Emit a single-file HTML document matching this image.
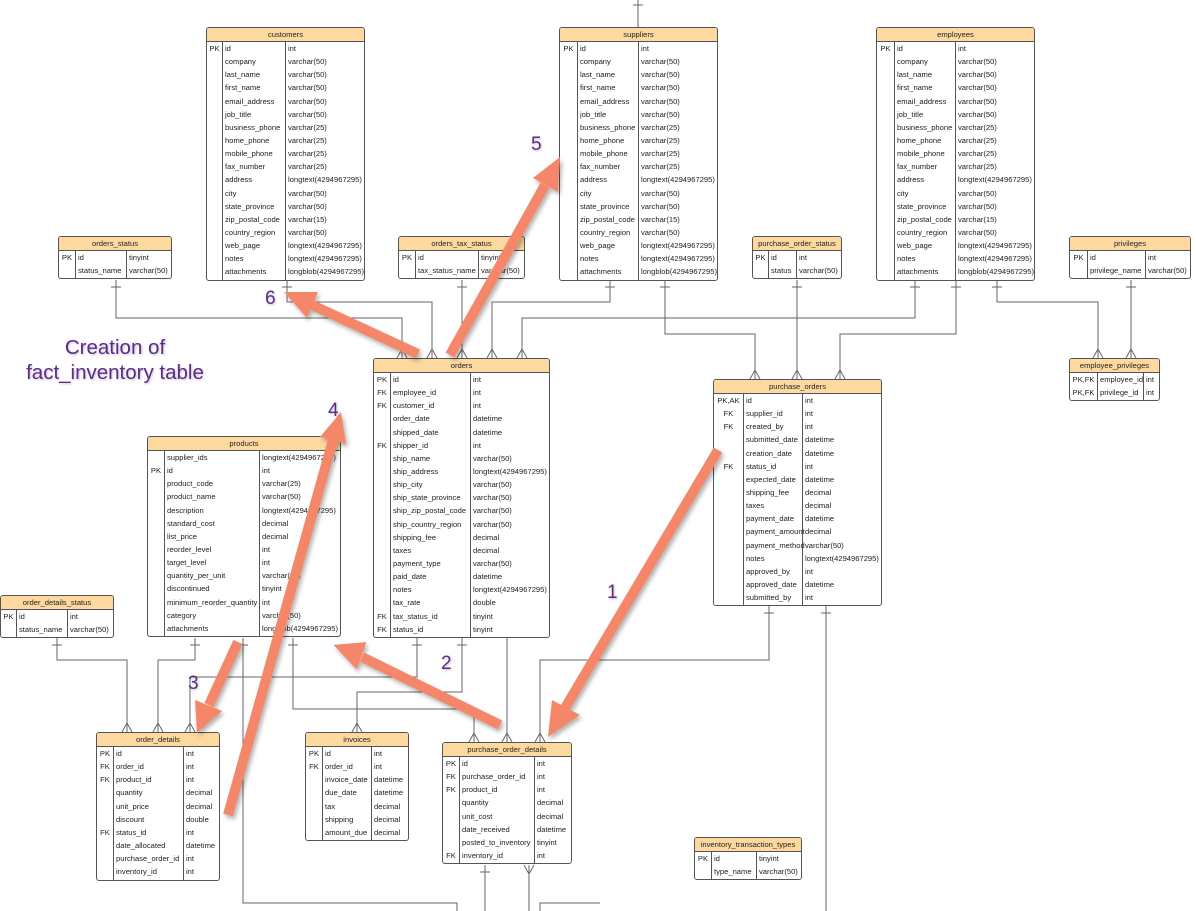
<!DOCTYPE html>
<html><head><meta charset="utf-8">
<style>
body{margin:0;width:1196px;height:911px;background:#fff;position:relative;overflow:hidden;font-family:"Liberation Sans",sans-serif;}
.t{position:absolute;border:1.3px solid #555;border-radius:3px;background:#fff;box-sizing:border-box;overflow:hidden;font-size:7.6px;color:#222;}
.h{height:14px;line-height:14px;text-align:center;background:#FDD9A0;border-bottom:1.3px solid #555;box-sizing:border-box;}
.r{height:13.15px;line-height:13.15px;white-space:nowrap;position:relative;}
.r span{position:absolute;top:0;}
.vl{position:absolute;top:14px;bottom:0;border-left:1px solid #555;}
svg{position:absolute;left:0;top:0;}
.lab{position:absolute;color:#5e2a8e;font-size:19px;text-shadow:1px 1px 2px rgba(0,0,0,.25);}
</style></head><body>
<svg width="1196" height="911" id="ln">
<g fill="none" stroke="#666" stroke-width="1" id="g">
<path d="M638 0V27"/>
<path d="M116 280V318H402V358"/>
<path d="M287 280V302H432V358"/>
<path d="M462 280V358"/>
<path d="M610 280V302H492V358"/>
<path d="M915 280V318H522V358"/>
<path d="M665 280V334H755V379"/>
<path d="M797 280V379"/>
<path d="M956 280V334H840V379"/>
<path d="M997 280V302H1098V358"/>
<path d="M1131 280V358"/>
<path d="M57 638V660H127V732"/>
<path d="M195 638V660H158V732"/>
<path d="M417 638V677H190V732"/>
<path d="M462 638V692H357V732"/>
<path d="M293 638V709H474V742"/>
<path d="M507 638V742"/>
<path d="M769 606V660H540V742"/>
<path d="M243 638V903H457V911"/>
<path d="M826 606V911"/>
<path d="M485 865V911"/>
<path d="M529 865V911"/>
<path d="M540 911V903H600"/>
</g>
</svg>
<div id="c"></div>
<svg width="1196" height="911">
<defs><filter id="sh"><feDropShadow dx="2" dy="3" stdDeviation="2" flood-opacity=".3"/></filter></defs>
<g stroke="#F4876A" stroke-width="10" fill="#F4876A" filter="url(#sh)">
<line x1="718" y1="450" x2="565" y2="708"/><polygon points="548,737 552,700 580,715" stroke="none"/>
<line x1="500" y1="725" x2="362" y2="657"/><polygon points="334,644 367,643 356,670" stroke="none" transform="rotate(-3 350 655)"/>
<line x1="238" y1="642" x2="209" y2="705"/><polygon points="197,733 195,700 222,711" stroke="none"/>
<line x1="228" y1="815" x2="333" y2="440"/><polygon points="341,412 346,444 320,437" stroke="none"/>
<line x1="450" y1="355" x2="545" y2="185"/><polygon points="560,157 558,192 533,178" stroke="none"/>
<line x1="418" y1="354" x2="312" y2="305"/><polygon points="284,292 318,292 307,318" stroke="none"/>
</g></svg>
<div class="lab" style="left:607px;top:582px">1</div>
<div class="lab" style="left:441px;top:653px">2</div>
<div class="lab" style="left:188px;top:673px">3</div>
<div class="lab" style="left:328px;top:400px">4</div>
<div class="lab" style="left:531px;top:134px">5</div>
<div class="lab" style="left:265px;top:288px">6</div>
<div class="lab" style="left:0;width:230px;text-align:center;top:335px;line-height:25px;font-size:20.5px">Creation of<br>fact_inventory table</div>
<script>
var T=[
["customers",206,27,365,222,285,[["PK","id","int"],["","company","varchar(50)"],["","last_name","varchar(50)"],["","first_name","varchar(50)"],["","email_address","varchar(50)"],["","job_title","varchar(50)"],["","business_phone","varchar(25)"],["","home_phone","varchar(25)"],["","mobile_phone","varchar(25)"],["","fax_number","varchar(25)"],["","address","longtext(4294967295)"],["","city","varchar(50)"],["","state_province","varchar(50)"],["","zip_postal_code","varchar(15)"],["","country_region","varchar(50)"],["","web_page","longtext(4294967295)"],["","notes","longtext(4294967295)"],["","attachments","longblob(4294967295)"]]],
["suppliers",559,27,718,577,638,null],
["employees",876,27,1035,894,955,null],
["orders_status",58,236,172,75,126,[["PK","id","tinyint"],["","status_name","varchar(50)"]]],
["orders_tax_status",398,236,525,415,478,[["PK","id","tinyint"],["","tax_status_name","varchar(50)"]]],
["purchase_order_status",752,236,842,768,796,[["PK","id","int"],["","status","varchar(50)"]]],
["privileges",1069,236,1191,1087,1145,[["PK","id","int"],["","privilege_name","varchar(50)"]]],
["employee_privileges",1069,358,1160,1097,1143,[["PK,FK","employee_id","int"],["PK,FK","privilege_id","int"]]],
["orders",373,358,550,390,470,[["PK","id","int"],["FK","employee_id","int"],["FK","customer_id","int"],["","order_date","datetime"],["","shipped_date","datetime"],["FK","shipper_id","int"],["","ship_name","varchar(50)"],["","ship_address","longtext(4294967295)"],["","ship_city","varchar(50)"],["","ship_state_province","varchar(50)"],["","ship_zip_postal_code","varchar(50)"],["","ship_country_region","varchar(50)"],["","shipping_fee","decimal"],["","taxes","decimal"],["","payment_type","varchar(50)"],["","paid_date","datetime"],["","notes","longtext(4294967295)"],["","tax_rate","double"],["FK","tax_status_id","tinyint"],["FK","status_id","tinyint"]]],
["purchase_orders",713,379,882,743,802,[["PK,AK","id","int"],["FK","supplier_id","int"],["FK","created_by","int"],["","submitted_date","datetime"],["","creation_date","datetime"],["FK","status_id","int"],["","expected_date","datetime"],["","shipping_fee","decimal"],["","taxes","decimal"],["","payment_date","datetime"],["","payment_amount","decimal"],["","payment_method","varchar(50)"],["","notes","longtext(4294967295)"],["","approved_by","int"],["","approved_date","datetime"],["","submitted_by","int"]]],
["products",147,436,341,164,259,[["","supplier_ids","longtext(4294967295)"],["PK","id","int"],["","product_code","varchar(25)"],["","product_name","varchar(50)"],["","description","longtext(4294967295)"],["","standard_cost","decimal"],["","list_price","decimal"],["","reorder_level","int"],["","target_level","int"],["","quantity_per_unit","varchar(50)"],["","discontinued","tinyint"],["","minimum_reorder_quantity","int"],["","category","varchar(50)"],["","attachments","longblob(4294967295)"]]],
["order_details_status",0,595,114,16,67,[["PK","id","int"],["","status_name","varchar(50)"]]],
["order_details",96,732,220,113,183,[["PK","id","int"],["FK","order_id","int"],["FK","product_id","int"],["","quantity","decimal"],["","unit_price","decimal"],["","discount","double"],["FK","status_id","int"],["","date_allocated","datetime"],["","purchase_order_id","int"],["","inventory_id","int"]]],
["invoices",305,732,409,322,371,[["PK","id","int"],["FK","order_id","int"],["","invoice_date","datetime"],["","due_date","datetime"],["","tax","decimal"],["","shipping","decimal"],["","amount_due","decimal"]]],
["purchase_order_details",442,742,572,459,534,[["PK","id","int"],["FK","purchase_order_id","int"],["FK","product_id","int"],["","quantity","decimal"],["","unit_cost","decimal"],["","date_received","datetime"],["","posted_to_inventory","tinyint"],["FK","inventory_id","int"]]],
["inventory_transaction_types",694,837,802,711,756,[["PK","id","tinyint"],["","type_name","varchar(50)"]]]
];
T[1][6]=T[0][6];T[2][6]=T[0][6];
var h="";
T.forEach(function(t){var L=t[1],w=t[3]-L,a=t[4]-L,b=t[5]-L,rows=t[6];
var H=14+rows.length*13.15+3;
h+='<div class="t" style="left:'+L+'px;top:'+t[2]+'px;width:'+w+'px;height:'+H+'px"><div class="h">'+t[0]+'</div>';
h+='<div class="vl" style="left:'+(a-1)+'px"></div><div class="vl" style="left:'+(b-1)+'px"></div>';
rows.forEach(function(r){h+='<div class="r"><span style="left:0;width:'+(a-1)+'px;text-align:center">'+r[0]+'</span><span style="left:'+(a+2)+'px">'+r[1]+'</span><span style="left:'+(b+2)+'px">'+r[2]+'</span></div>';});
h+='</div>';});
document.getElementById("c").innerHTML=h;
var g=document.getElementById("g"),s="";
[[402,358],[432,358],[462,358],[492,358],[522,358],[755,379],[797,379],[840,379],[1098,358],[1131,358],[127,732],[158,732],[190,732],[357,732],[474,742],[507,742],[540,742]].forEach(function(p){var x=p[0],y=p[1];s+='<path d="M'+(x-5)+' '+y+'L'+x+' '+(y-9)+'L'+(x+5)+' '+y+'M'+x+' '+y+'V'+(y-9)+'"/>';});
[[116,287],[287,287],[462,287],[610,287],[665,287],[797,287],[915,287],[956,287],[997,287],[1131,287],[57,645],[195,645],[243,645],[293,645],[417,645],[462,645],[769,613],[826,613],[485,872]].forEach(function(p){s+='<path d="M'+(p[0]-5)+' '+p[1]+'H'+(p[0]+5)+'"/>';});
s+='<path d="M524 865L529 874L534 865"/><path d="M633 5H643"/>';
g.innerHTML+=s;
</script>
</body></html>
